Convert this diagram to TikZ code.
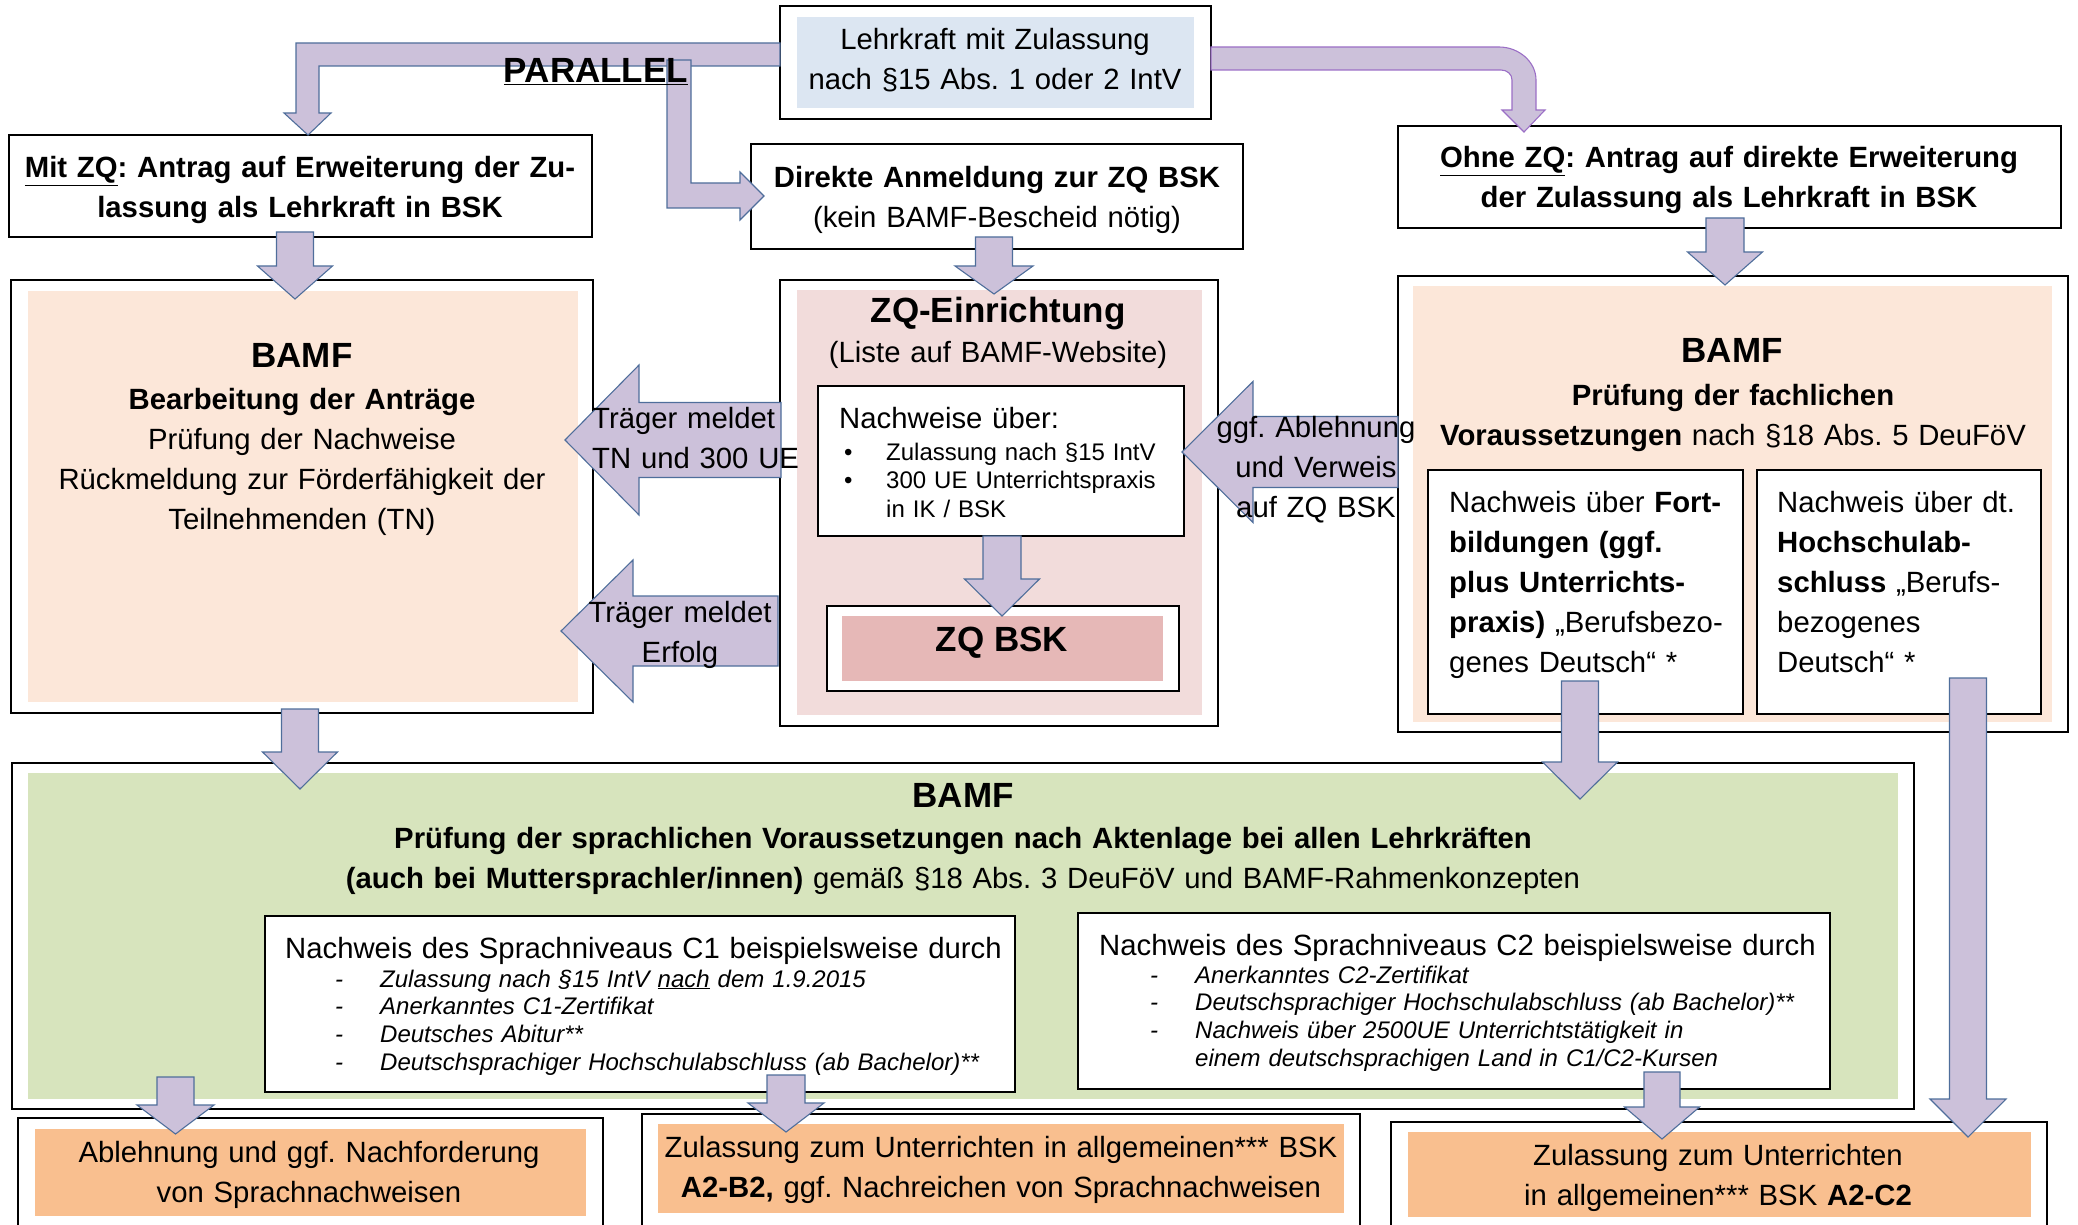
\documentclass[tikz,border=0pt]{standalone}
\usepackage{fontspec}
\setmainfont{Liberation Sans}
\usetikzlibrary{calc}
\frenchspacing
\definecolor{arrowfill}{HTML}{CCC1DA}
\definecolor{arrowline}{HTML}{4F6E9B}
\definecolor{arrowpurple}{HTML}{9B6FC6}
\definecolor{bluefill}{HTML}{DCE6F2}
\definecolor{peach}{HTML}{FCE7D9}
\definecolor{pinkfill}{HTML}{F2DCDB}
\definecolor{rosefill}{HTML}{E6B8B7}
\definecolor{greenfill}{HTML}{D7E4BD}
\definecolor{orangefill}{HTML}{F9BF8F}
\newcommand\fbase{\fontsize{29.3}{40}\selectfont}
\newcommand\fsmall{\fontsize{24}{27.7}\selectfont}
\newcommand\fsmallb{\fontsize{24}{28.5}\selectfont}
\newcommand\fbig{\fontsize{35}{42}\selectfont}
\newcommand\bx[6]{\node[#2, anchor=north west, minimum width={(#5)-(#3)}, minimum height={(#6)-(#4)}] (#1) at (#3,#4) {};}
\newcommand\fatdown[5]{%
  \path[fatarrow] let \p1=(#1), \p2=(#2) in
    (\x1-#3,\y1) -- (\x1-#3,\y2+#5) -- (\x1-#4,\y2+#5) -- (\x1,\y2)
    -- (\x1+#4,\y2+#5) -- (\x1+#3,\y2+#5) -- (\x1+#3,\y1) -- cycle;}
\newcommand\fatleft[5]{%
  \path[fatarrow] let \p1=(#1), \p2=(#2) in
    (\x1,\y2+#3) -- (\x2+#5,\y2+#3) -- (\x2+#5,\y2+#4) -- (\x2,\y2)
    -- (\x2+#5,\y2-#4) -- (\x2+#5,\y2-#3) -- (\x1,\y2-#3) -- cycle;}
\begin{document}
\begin{tikzpicture}[x=1pt, y=-1pt,
  outerbox/.style={draw=black, line width=1.8pt, fill=white, inner sep=0pt, outer sep=0pt},
  fillbox/.style={fill=#1, draw=none, inner sep=0pt, outer sep=0pt},
  fatarrow/.style={fill=arrowfill, draw=arrowline, line width=1.1pt, line join=miter},
  ctext/.style={text width=#1, align=center, anchor=base, inner sep=0pt, font=\fbase},
  ltext/.style={text width=#1, align=left, anchor=base west, inner sep=0pt, font=\fbase},
  bigtitle/.style={anchor=base, inner sep=0pt, font=\fbig\bfseries}]
\useasboundingbox (0,0) rectangle (2078,1225);
% ---------------- boxes
\bx{top}{outerbox}{780}{6}{1211}{119}
\bx{topin}{fillbox=bluefill}{797}{17}{1194}{108}
\bx{mitzq}{outerbox}{9}{135}{592}{237}
\bx{direkt}{outerbox}{751}{144}{1243}{249}
\bx{ohne}{outerbox}{1398}{126}{2061}{228}
\bx{bamfl}{outerbox}{11}{280}{593}{713}
\bx{bamflin}{fillbox=peach}{28}{291}{578}{702}
\bx{zqe}{outerbox}{780}{280}{1218}{726}
\bx{zqein}{fillbox=pinkfill}{797}{290}{1202}{715}
\bx{nachw}{outerbox}{818}{386}{1184}{536}
\bx{zqbsk}{outerbox}{827}{606}{1179}{691}
\bx{zqbskin}{fillbox=rosefill}{842}{616}{1163}{681}
\bx{bamfr}{outerbox}{1398}{276}{2068}{732}
\bx{bamfrin}{fillbox=peach}{1413}{286}{2052}{722}
\bx{subl}{outerbox}{1428}{470}{1743}{714}
\bx{subr}{outerbox}{1757}{470}{2041}{714}
\bx{green}{outerbox}{12}{763}{1914}{1109}
\bx{greenin}{fillbox=greenfill}{28}{773}{1898}{1099}
\bx{cone}{outerbox}{265}{916}{1015}{1092}
\bx{ctwo}{outerbox}{1078}{913}{1830}{1089}
\bx{abl}{outerbox}{18}{1118}{603}{1240}
\bx{ablin}{fillbox=orangefill}{35}{1129}{586}{1216}
\bx{ztwo}{outerbox}{642}{1114}{1360}{1240}
\bx{ztwoin}{fillbox=orangefill}{658}{1124}{1344}{1213}
\bx{zthree}{outerbox}{1391}{1122}{2047}{1240}
\bx{zthreein}{fillbox=orangefill}{1408}{1132}{2031}{1217}
% ---------------- connector end points
\coordinate (mitOut) at (295,232);   \coordinate (bamflIn) at (295,299);
\coordinate (dirOut) at (994,237);   \coordinate (zqeIn) at (994,294);
\coordinate (ohneOut) at (1725,218); \coordinate (bamfrIn) at (1725,285);
\coordinate (nwOut) at (1002,536);   \coordinate (zqbskIn) at (1002,616);
\coordinate (bamflOut) at (300,709); \coordinate (greenInL) at (300,789);
\coordinate (sublOut) at (1580,681); \coordinate (greenInR) at (1580,799);
\coordinate (subrOut) at (1968,678); \coordinate (zthreeInR) at (1968,1137);
\coordinate (greenOut) at (175.5,1077); \coordinate (ablIn) at (175.5,1134);
\coordinate (coneOut) at (786,1075); \coordinate (ztwoIn) at (786,1132);
\coordinate (ctwoOut) at (1662,1072); \coordinate (zthreeInL) at (1662,1139);
\coordinate (zqeOutA) at (781,440);  \coordinate (bamflInA) at (565,440);
\coordinate (zqeOutB) at (778,631);  \coordinate (bamflInB) at (561,631);
\coordinate (bamfrOut) at (1398,452); \coordinate (zqeInR) at (1182,452);
% ---------------- block arrows
\path[fatarrow] (top.west |- 0,43) -- (296,43) -- (296,113) -- (284,113) -- (308,135)
  -- (331,113) -- (319,113) -- (319,66) -- (top.west |- 0,66) -- cycle;
\path[fatarrow] (667,60) -- (691,60) -- (691,183) -- (740,183) -- (740,172) -- (764,196)
  -- (740,220) -- (740,208) -- (667,208) -- cycle;
\path[fatarrow, draw=arrowpurple] (top.east |- 0,47) -- (1499,47)
  .. controls (1519,47) and (1536,62) .. (1536,80) -- (1536,110) -- (1545,110)
  -- (1524,132) -- (1502,110) -- (1512,110) -- (1512,80)
  .. controls (1512,74) and (1507,70) .. (1501,70) -- (top.east |- 0,70) -- cycle;
\fatdown{mitOut}{bamflIn}{18.5}{37.5}{33}
\fatdown{dirOut}{zqeIn}{18.5}{39}{28}
\fatdown{ohneOut}{bamfrIn}{19}{37.5}{33}
\fatdown{nwOut}{zqbskIn}{19}{37.5}{37}
\fatdown{bamflOut}{greenInL}{18.5}{37.5}{37}
\fatdown{sublOut}{greenInR}{18.5}{37.5}{37}
\fatdown{subrOut}{zthreeInR}{18.5}{38}{38}
\fatdown{greenOut}{ablIn}{18.5}{38.5}{29}
\fatdown{coneOut}{ztwoIn}{19}{38}{29}
\fatdown{ctwoOut}{zthreeInL}{18}{37.5}{32}
\fatleft{zqeOutA}{bamflInA}{37.5}{75}{74}
\fatleft{zqeOutB}{bamflInB}{35}{71}{72}
\fatleft{bamfrOut}{zqeInR}{35.5}{70.5}{71}
% ---------------- texts
\node[ctext=420] (tTop) at (995,50) {Lehrkraft mit Zulassung\\nach §15 Abs. 1 oder 2 IntV};
\node[bigtitle] (tPar) at (596,83) {\underline{PARALLEL}};
\node[ctext=600, font=\fbase\bfseries] (tMit) at (300,178) {\underline{Mit ZQ}: Antrag auf Erweiterung der Zu-\\lassung als Lehrkraft in BSK};
\node[ctext=480] (tDir) at (997,188) {\textbf{Direkte Anmeldung zur ZQ BSK}\\(kein BAMF-Bescheid nötig)};
\node[ctext=660, font=\fbase\bfseries] (tOhne) at (1729,168) {\underline{Ohne ZQ}: Antrag auf direkte Erweiterung\\der Zulassung als Lehrkraft in BSK};
\node[bigtitle] (tB1) at (302,367) {BAMF};
\node[ctext=560] (tB1b) at (302,409) {\textbf{Bearbeitung der Anträge}\\Prüfung der Nachweise\\Rückmeldung zur Förderfähigkeit der\\Teilnehmenden (TN)};
\node[bigtitle] (tZQE) at (998,322) {ZQ-Einrichtung};
\node[ctext=420] (tListe) at (998,362) {(Liste auf BAMF-Website)};
\node[ltext=340] (tNw) at (839,428) {Nachweise über:};
\node[ltext=340, font=\fsmallb] (tNwItems) at (844,460) {\makebox[42pt][l]{•}Zulassung nach §15 IntV\\\makebox[42pt][l]{•}300 UE Unterrichtspraxis\\\hspace*{42pt}in IK / BSK};
\node[bigtitle] (tZQBSK) at (1002,651) {ZQ BSK};
\node[ltext=300] (tTr1) at (592,428) {Träger meldet\\TN und 300 UE};
\node[ctext=240] (tTr2) at (680,622) {Träger meldet\\Erfolg};
\node[ctext=260] (tGgf) at (1316,437) {ggf. Ablehnung\\und Verweis\\auf ZQ BSK};
\node[bigtitle] (tB2) at (1732,362) {BAMF};
\node[ctext=660] (tB2b) at (1733,405) {\textbf{Prüfung der fachlichen}\\\textbf{Voraussetzungen} nach §18 Abs. 5 DeuFöV};
\node[ltext=400] (tSubl) at (1449,512) {Nachweis über \textbf{Fort-}\\\textbf{bildungen (ggf.}\\\textbf{plus Unterrichts-}\\\textbf{praxis)} „Berufsbezo-\\genes Deutsch“ *};
\node[ltext=400] (tSubr) at (1777,512) {Nachweis über dt.\\\textbf{Hochschulab-}\\\textbf{schluss} „Berufs-\\bezogenes\\Deutsch“ *};
\node[bigtitle] (tB3) at (963,807) {BAMF};
\node[ctext=1400] (tB3b) at (963,848) {\textbf{Prüfung der sprachlichen Voraussetzungen nach Aktenlage bei allen Lehrkräften}\\\textbf{(auch bei Muttersprachler/innen)} gemäß §18 Abs. 3 DeuFöV und BAMF-Rahmenkonzepten};
\node[ltext=760] (tC1) at (285,958) {Nachweis des Sprachniveaus C1 beispielsweise durch};
\node[ltext=700, font=\fsmall\itshape] (tC1items) at (335,987) {\makebox[45pt][l]{-}Zulassung nach §15 IntV \underline{nach} dem 1.9.2015\\\makebox[45pt][l]{-}Anerkanntes C1-Zertifikat\\\makebox[45pt][l]{-}Deutsches Abitur**\\\makebox[45pt][l]{-}Deutschsprachiger Hochschulabschluss (ab Bachelor)**};
\node[ltext=760] (tC2) at (1099,955) {Nachweis des Sprachniveaus C2 beispielsweise durch};
\node[ltext=700, font=\fsmall\itshape] (tC2items) at (1150,983) {\makebox[45pt][l]{-}Anerkanntes C2-Zertifikat\\\makebox[45pt][l]{-}Deutschsprachiger Hochschulabschluss (ab Bachelor)**\\\makebox[45pt][l]{-}Nachweis über 2500UE Unterrichtstätigkeit in\\\hspace*{45pt}einem deutschsprachigen Land in C1/C2-Kursen};
\node[ctext=560] (tAbl) at (309,1162) {Ablehnung und ggf. Nachforderung\\von Sprachnachweisen};
\node[ctext=720] (tZ2) at (1001,1157) {Zulassung zum Unterrichten in allgemeinen*** BSK\\\textbf{A2-B2,} ggf. Nachreichen von Sprachnachweisen};
\node[ctext=640] (tZ3) at (1718,1165) {Zulassung zum Unterrichten\\in allgemeinen*** BSK \textbf{A2-C2}};
\end{tikzpicture}
\end{document}
